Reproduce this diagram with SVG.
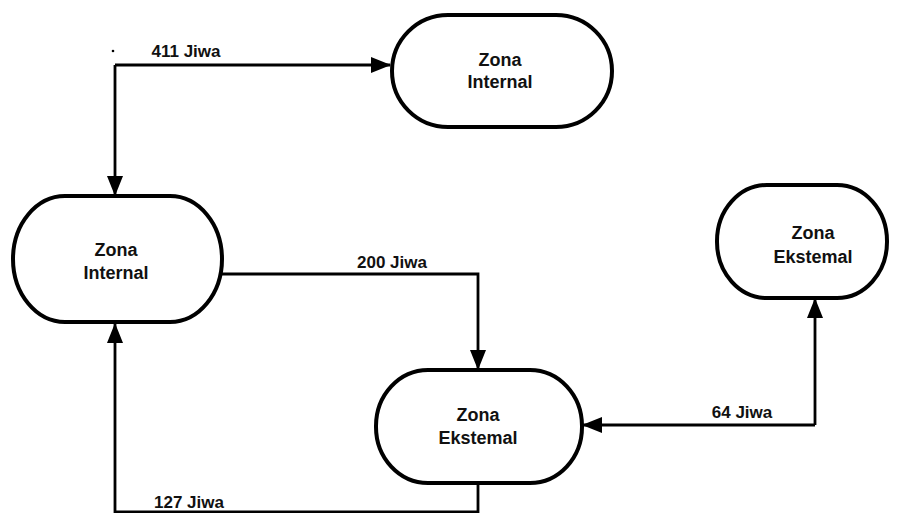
<svg xmlns="http://www.w3.org/2000/svg" width="900" height="513" viewBox="0 0 900 513">
<style>
.node{fill:#fff;stroke:#000;stroke-width:4}
.lbl{font-family:"Liberation Sans",Arial,sans-serif;font-weight:bold;font-size:17px;fill:#111;text-anchor:middle}
.nl{font-size:18px}
.conn{fill:none;stroke:#000;stroke-width:2.8}
</style>
<defs>
<marker id="arr" markerUnits="userSpaceOnUse" markerWidth="20" markerHeight="16" refX="19" refY="8" orient="auto">
<path d="M0,0 L20,8 L0,16 z" fill="#000"/>
</marker>
</defs>
<rect width="900" height="513" fill="#fff"/>
<g id="connectors">
<path class="conn" d="M115,65 H390" marker-end="url(#arr)"/>
<path class="conn" d="M115,65 V195" marker-end="url(#arr)"/>
<path class="conn" d="M222,274 H478 V369" marker-end="url(#arr)"/>
<path class="conn" d="M815,425 V299" marker-end="url(#arr)"/>
<path class="conn" d="M815,425 H583" marker-end="url(#arr)"/>
<path class="conn" d="M478,484 V512 H115 V324" marker-end="url(#arr)"/>
<circle cx="113" cy="51" r="1.3" fill="#000"/>
<text class="lbl" x="186" y="57">411 Jiwa</text>
<text class="lbl" x="392" y="268">200 Jiwa</text>
<text class="lbl" x="742" y="418">64 Jiwa</text>
<text class="lbl" x="189" y="508">127 Jiwa</text>
</g>
<g id="top-internal">
<rect class="node" x="392" y="15" width="220" height="112" rx="56" ry="56"/>
<text class="lbl nl" x="500" y="66">Zona</text>
<text class="lbl nl" x="500" y="88">Internal</text>
</g>
<g id="left-internal">
<rect class="node" x="13" y="196" width="209" height="126" rx="52" ry="63"/>
<text class="lbl nl" x="116" y="256">Zona</text>
<text class="lbl nl" x="116" y="279">Internal</text>
</g>
<g id="right-eksternal">
<rect class="node" x="717" y="185" width="170" height="113" rx="50" ry="56"/>
<text class="lbl nl" x="813" y="239">Zona</text>
<text class="lbl nl" x="813" y="263">Ekstemal</text>
</g>
<g id="bottom-eksternal">
<rect class="node" x="376" y="370" width="206" height="113" rx="52" ry="56"/>
<text class="lbl nl" x="478" y="421">Zona</text>
<text class="lbl nl" x="478" y="444">Ekstemal</text>
</g>
</svg>
